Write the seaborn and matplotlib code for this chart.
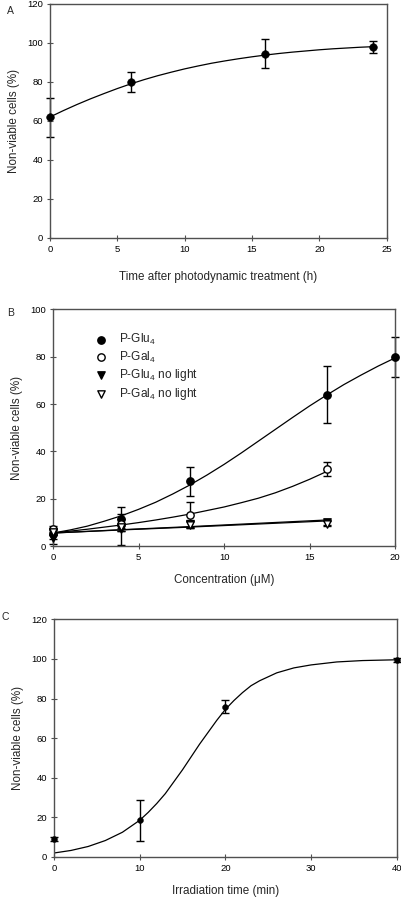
import numpy as np
import pandas as pd
import seaborn as sns
import matplotlib.pyplot as plt

# ---- Painel A: tempo após o tratamento ----
tempo_h = [0, 6, 16, 24]
morte_a = [62, 80, 94.5, 98]
erro_a = [10, 5, 7.5, 3]
# curva ajustada
curva_a_x = list(range(0, 25))
curva_a_y = [62, 65.3, 68.4, 71.3, 74, 76.6, 79, 81.2, 83.2, 85, 86.7, 88.2, 89.6,
             90.8, 91.9, 92.9, 93.8, 94.6, 95.3, 95.9, 96.5, 97, 97.4, 97.8, 98.1]

# ---- Painel B: concentração ----
conc = [0, 4, 8, 16, 20]
glu = [5, 11.5, 27.3, 64, 79.7]
glu_err = [2, 5, 6, 12, 8.5]
conc_gal = [0, 4, 8, 16]
gal = [7, 9.5, 13.3, 32.5]
gal_err = [1.5, 2, 5.5, 3]
glu_escuro = [3.5, 7, 9.5, 10]
glu_escuro_err = [2.5, 6.7, 1.5, 1]
gal_escuro = [6, 8, 9, 9.5]
gal_escuro_err = [1.5, 1.5, 1.5, 1]

curva_glu_x = list(range(0, 21))
curva_glu_y = [5.5, 6.8, 8.4, 10.5, 12.8, 15.5, 18.5, 22, 25.8, 30, 34.5, 39.3, 44.3,
               49.3, 54.3, 59.2, 63.8, 68.2, 72.2, 76, 79.5]
curva_gal_x = list(range(0, 17))
curva_gal_y = [5.5, 6.3, 7.1, 8, 8.9, 9.9, 11, 12.2, 13.5, 15, 16.5, 18.3, 20.2,
               22.5, 25.2, 28.2, 31.5]
curva_escuro_x = [0, 4, 8, 12, 16]
curva_glu_escuro_y = [5.5, 6.9, 8.2, 9.6, 11]
curva_gal_escuro_y = [5.5, 6.8, 8.0, 9.3, 10.6]

# ---- Painel C: tempo de irradiação ----
irrad = [0, 10, 20, 40]
morte_c = [9, 18.5, 76, 99.5]
erro_c = [1, 10.5, 3.5, 1]
curva_c_x = [0, 2, 4, 6, 8, 10, 11, 12, 13, 14, 15, 16, 17, 18, 19, 20, 21, 22, 23,
             24, 26, 28, 30, 33, 36, 40]
curva_c_y = [2, 3.3, 5.3, 8.3, 12.5, 18.5, 22.5, 27, 32, 38, 44, 50.5, 57, 63, 69,
             74.5, 79, 83, 86.5, 89, 93, 95.5, 97, 98.5, 99.2, 99.6]

sns.set_style("ticks")
plt.rcParams['font.family'] = ['Liberation Sans', 'DejaVu Sans']
plt.rcParams['mathtext.default'] = 'regular'
plt.rcParams['axes.edgecolor'] = '#505050'
plt.rcParams['axes.linewidth'] = 1.0
plt.rcParams['xtick.color'] = '#505050'
plt.rcParams['ytick.color'] = '#505050'
plt.rcParams['xtick.labelcolor'] = 'black'
plt.rcParams['ytick.labelcolor'] = 'black'

fig = plt.figure(figsize=(4.02, 9), dpi=100)
ax_a = fig.add_axes([0.124, 0.7356, 0.838, 0.26])
ax_b = fig.add_axes([0.132, 0.3933, 0.851, 0.263])
ax_c = fig.add_axes([0.134, 0.0478, 0.853, 0.264])


def estilo(ax, xlabel, xmax, ymax, ystep, xpad):
    for lado in ['top', 'right', 'left', 'bottom']:
        ax.spines[lado].set_visible(True)
    ax.set_xlim(0, xmax)
    ax.set_ylim(0, ymax)
    ax.set_yticks(np.arange(0, ymax + 1, ystep))
    ax.tick_params(labelsize=6.8, length=4, width=0.8, pad=3, direction='inout')
    ax.set_xlabel(xlabel, fontsize=8.4, labelpad=xpad)
    ax.set_ylabel("Non-viable cells (%)", fontsize=8.4, labelpad=5)


# Painel A
sns.lineplot(x=curva_a_x, y=curva_a_y, color='black', lw=0.9, ax=ax_a)
ax_a.errorbar(tempo_h, morte_a, yerr=erro_a, fmt='none', ecolor='black',
              elinewidth=1, capsize=3, capthick=1, clip_on=False)
sns.scatterplot(x=tempo_h, y=morte_a, color='black', s=30, edgecolor='black',
                zorder=5, clip_on=False, ax=ax_a)
estilo(ax_a, "Time after photodynamic treatment (h)", 25, 120, 20, 12)
ax_a.set_xticks([0, 5, 10, 15, 20, 25])
fig.text(0.018, 0.988, "A", fontsize=7.5, va='center')

# Painel B
for cx, cy in [(curva_glu_x, curva_glu_y), (curva_gal_x, curva_gal_y),
               (curva_escuro_x, curva_glu_escuro_y), (curva_escuro_x, curva_gal_escuro_y)]:
    sns.lineplot(x=cx, y=cy, color='black', lw=0.9, ax=ax_b)

series_b = [
    (conc, glu, glu_err, 'o', 'black', "P-Glu$_4$"),
    (conc_gal, gal, gal_err, 'o', 'white', "P-Gal$_4$"),
    (conc_gal, glu_escuro, glu_escuro_err, 'v', 'black', "P-Glu$_4$ no light"),
    (conc_gal, gal_escuro, gal_escuro_err, 'v', 'white', "P-Gal$_4$ no light"),
]
for xs, ys, es, mk, cor, nome in series_b:
    ax_b.errorbar(xs, ys, yerr=es, fmt='none', ecolor='black', elinewidth=1,
                  capsize=3, capthick=1, clip_on=False)
    sns.scatterplot(x=xs, y=ys, marker=mk, color=cor, edgecolor='black',
                    linewidth=1, s=28, zorder=5, clip_on=False, label=nome, ax=ax_b)
estilo(ax_b, "Concentration (\u03bcM)", 20, 100, 20, 9)
ax_b.set_xticks([0, 5, 10, 15, 20])
ax_b.legend(loc='upper left', bbox_to_anchor=(0.09, 0.925), frameon=False,
            fontsize=8.6, handletextpad=0.55, labelspacing=0.22, borderaxespad=0)
fig.text(0.018, 0.652, "B", fontsize=7.5, va='center')

# Painel C
sns.lineplot(x=curva_c_x, y=curva_c_y, color='black', lw=0.9, ax=ax_c)
ax_c.errorbar(irrad, morte_c, yerr=erro_c, fmt='none', ecolor='black',
              elinewidth=1, capsize=3, capthick=1, clip_on=False)
sns.scatterplot(x=irrad, y=morte_c, color='black', s=18, edgecolor='black',
                zorder=5, clip_on=False, ax=ax_c)
estilo(ax_c, "Irradiation time (min)", 40, 120, 20, 9)
ax_c.set_xticks([0, 10, 20, 30, 40])
fig.text(0.004, 0.314, "C", fontsize=7.5, va='center')

plt.savefig("out.png", dpi=100)
